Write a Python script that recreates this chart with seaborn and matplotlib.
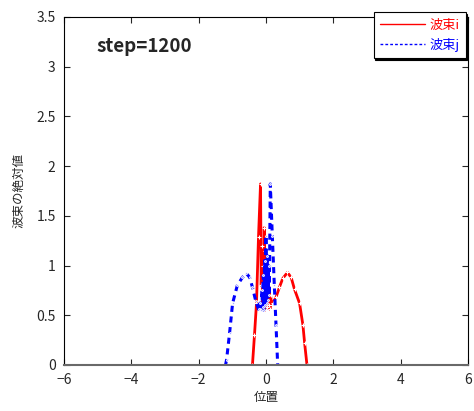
import matplotlib
matplotlib.use("Agg")
import matplotlib.pyplot as plt
import seaborn as sns
import pandas as pd

# wave packet i (red)
xi = [-0.40, -0.34, -0.28, -0.22, -0.16, -0.14, -0.12, -0.10, -0.08, -0.06, -0.05, -0.04,
      -0.02, 0.00, 0.02, 0.04, 0.06, 0.08, 0.10, 0.12, 0.14, 0.17, 0.20, 0.30, 0.40,
      0.50, 0.64, 0.75, 0.85, 1.00, 1.10, 1.15, 1.22]
yi = [0.00, 0.30, 0.62, 1.29, 1.82, 0.80, 1.20, 0.60, 1.00, 0.70, 1.38, 0.60,
      1.15, 0.55, 0.95, 0.58, 0.85, 0.60, 0.78, 0.56, 0.70, 0.60, 0.62, 0.68, 0.78,
      0.87, 0.93, 0.88, 0.76, 0.62, 0.40, 0.22, 0.00]

# wave packet j (blue)
xj = [-1.20, -1.17, -1.08, -0.99, -0.85, -0.70, -0.58, -0.48, -0.40, -0.30, -0.22,
      -0.18, -0.15, -0.12, -0.10, -0.08, -0.06, -0.04, -0.02, 0.00, 0.02, 0.04, 0.06,
      0.08, 0.10, 0.13, 0.19, 0.25, 0.30, 0.35]
yj = [0.00, 0.05, 0.32, 0.62, 0.80, 0.88, 0.92, 0.88, 0.78, 0.64, 0.56,
      0.62, 0.55, 0.75, 0.58, 0.90, 0.55, 1.05, 0.60, 1.30, 0.62, 1.10, 0.65,
      1.00, 0.70, 1.82, 1.30, 0.80, 0.40, 0.00]

xticks = [-6, -4, -2, 0, 2, 4, 6]
yticks = [0, 0.5, 1, 1.5, 2, 2.5, 3, 3.5]
ytick_labels = ["0", "0.5", "1", "1.5", "2", "2.5", "3", "3.5"]

sns.set_style("ticks")
plt.rcParams['font.family'] = ['Noto Sans CJK JP', 'DejaVu Sans']

fig = plt.figure(figsize=(4.74, 4.11), dpi=100)
ax = fig.add_axes([0.135, 0.112, 0.852, 0.847])

di = pd.DataFrame({"x": xi, "y": yi})
dj = pd.DataFrame({"x": xj, "y": yj})
sns.lineplot(data=di, x="x", y="y", ax=ax, color="red", lw=2.0, marker="+",
             markersize=3, markeredgewidth=0.8, estimator=None, sort=False, label="波束i")
sns.lineplot(data=dj, x="x", y="y", ax=ax, color="blue", lw=2.2, dashes=(2, 1.5),
             marker=".", markersize=2.5, estimator=None, sort=False, label="波束j")

ax.set_xlim(-6, 6)
ax.set_ylim(0, 3.5)
ax.set_xticks(xticks)
ax.set_xticklabels([str(t).replace("-", "\u2212") for t in xticks])
ax.set_yticks(yticks)
ax.set_yticklabels(ytick_labels)
ax.tick_params(direction="in", top=True, right=True, labelsize=10, length=4, width=0.8, pad=6)
ax.set_xlabel("位置", fontsize=9, labelpad=3)
ax.set_ylabel("波束の絶対値", fontsize=9, labelpad=8)
for s in ["left", "top", "right"]:
    ax.spines[s].set_color("black")
    ax.spines[s].set_linewidth(0.8)
ax.spines["bottom"].set_color("dimgray")
ax.spines["bottom"].set_linewidth(1.5)

ax.text(0.08, 0.915, "step=1200", transform=ax.transAxes, fontsize=13.5,
        fontweight="bold", va="center", ha="left")

leg = ax.legend(loc="upper right", bbox_to_anchor=(0.995, 1.014), borderaxespad=0,
                fontsize=9.5, frameon=True,
                shadow={"color": "black", "alpha": 1.0, "ox": 1.2, "oy": -1.2},
                fancybox=False, handlelength=3.4, handletextpad=0.3, borderpad=0.5,
                labelspacing=0.45, framealpha=1.0)
leg.get_frame().set_edgecolor("black")
leg.get_frame().set_linewidth(0.8)
for h, t in zip(leg.get_lines(), leg.get_texts()):
    t.set_color(h.get_color())
    h.set_marker("")
    h.set_linewidth(1.0)

fig.savefig("out.png", dpi=100)
